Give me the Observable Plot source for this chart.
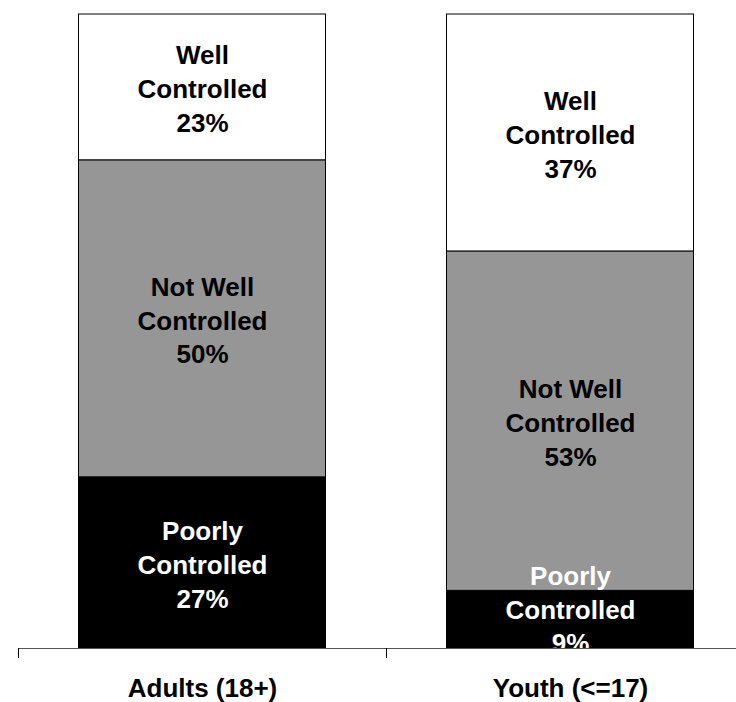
<!DOCTYPE html>
<html>
<head>
<meta charset="utf-8">
<script src="https://cdn.jsdelivr.net/npm/d3@7"></script>
<script src="https://cdn.jsdelivr.net/npm/@observablehq/plot@0.6"></script>
<style>
  html, body { margin: 0; padding: 0; background: #fff; }
</style>
</head>
<body>
<div id="chart"></div>
<script>
const groups = ["Adults (18+)", "Youth (<=17)"];
const levels = ["Poorly Controlled", "Not Well Controlled", "Well Controlled"];
const levelLines = ["Poorly\nControlled", "Not Well\nControlled", "Well\nControlled"];
const adultsValues = [27, 50, 23];
const youthValues = [9, 53, 37];
const levelColors = ["#000000", "#969696", "#ffffff"];
const labelColors = ["#ffffff", "#000000", "#000000"];

const seriesByGroup = [adultsValues, youthValues];
const data = groups.flatMap((g, gi) =>
  levels.map((l, li) => ({
    group: g,
    level: l,
    value: seriesByGroup[gi][li],
    label: levelLines[li] + "\n" + seriesByGroup[gi][li] + "%",
    labelColor: labelColors[li]
  }))
);

const stackOpts = (extra) => Plot.stackY({
  offset: "normalize",
  order: levels,
  x: "group",
  y: "value",
  ...extra
});

const textStyle = {
  text: "label",
  fill: "labelColor",
  fontSize: 26,
  fontWeight: "bold",
  lineHeight: 1.3
};

const chart = Plot.plot({
  width: 736,
  height: 702,
  marginTop: 14,
  marginBottom: 54,
  marginLeft: 0,
  marginRight: 0,
  style: { fontFamily: "'Liberation Sans', Arial, sans-serif", background: "#fff" },
  x: { domain: groups, range: [18, 754], padding: 0, axis: null, label: null },
  y: { axis: null },
  color: { domain: levels, range: levelColors },
  marks: [
    Plot.barY(data, stackOpts({
      fill: "level",
      stroke: "#000",
      strokeWidth: 1,
      insetLeft: 60.5,
      insetRight: 60.5
    })),
    Plot.text(data, Plot.filter(d => d.value >= 15, stackOpts(textStyle))),
    Plot.text(data, Plot.filter(d => d.value < 15, stackOpts({...textStyle, dy: -12}))),
    Plot.ruleY([0], { stroke: "#555", strokeWidth: 1.2, insetLeft: 18 }),
    Plot.axisX({ tickSize: 10, tickFormat: () => "", dx: -184, stroke: "#000", label: null }),
    Plot.axisX({ tickSize: 0, tickPadding: 30, fontSize: 26, fontWeight: "bold", fill: "#000", label: null })
  ]
});

document.getElementById("chart").appendChild(chart);
</script>
</body>
</html>
